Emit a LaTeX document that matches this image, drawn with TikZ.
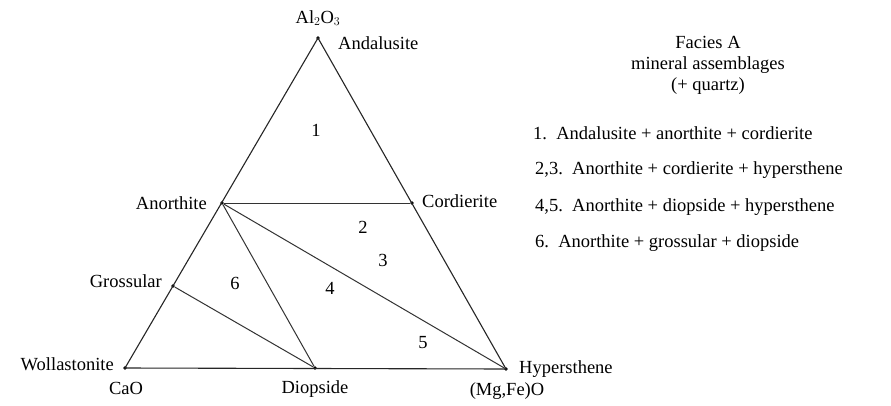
\documentclass[tikz,border=0pt]{standalone}
\usepackage{fontspec}
\setmainfont{Liberation Serif}
\usetikzlibrary{positioning}

\begin{document}
\begin{tikzpicture}[
x=1pt,y=-1pt,
side/.style={draw=black!85, line width=1.1pt},
tie/.style={draw=black!80, line width=1pt},
pt/.style={circle, fill=black, inner sep=0pt, minimum size=3.6pt},
lbl/.style={font=\fontsize{18.5}{21}\selectfont, inner sep=0pt},
num/.style={font=\fontsize{18.5}{21}\selectfont, inner sep=0pt},
key/.style={font=\fontsize{18.5}{21}\selectfont, anchor=west, inner sep=0pt}
]
\useasboundingbox (0,0) rectangle (891,405);
\fill[white] (0,0) rectangle (891,405);

% corners and phases
\node[pt] (al) at (318,38) {};
\node[pt] (cao) at (125,368) {};
\node[pt] (hyp) at (506,369) {};
\node[pt] (an) at (222,203) {};
\node[pt] (cd) at (412,203) {};
\node[pt] (gr) at (173,286) {};
\node[pt] (di) at (315,368) {};

\draw[side] (al.center) -- (cao.center) -- (hyp.center) -- cycle;
\draw[tie] (an) -- (cd);
\draw[tie] (an) -- (hyp);
\draw[tie] (an) -- (di);
\draw[tie] (gr) -- (di);

% phase names
\node[lbl, above=10pt of al] (alname) {Al$_2$O$_3$};
\node[lbl, anchor=west] (and) at (338,43) {Andalusite};
\node[lbl, left=13pt of an] (anname) {Anorthite};
\node[lbl, anchor=west] (cdname) at (422,201) {Cordierite};
\node[lbl, anchor=east] (grname) at (162,281) {Grossular};
\node[lbl, anchor=east] (wo) at (114,364) {Wollastonite};
\node[lbl] (caoname) at (126,388) {CaO};
\node[lbl] (diname) at (315,389) {Diopside};
\node[lbl, right=11pt of hyp] (hypname) {Hypersthene};
\node[lbl] (mgfe) at (507,391) {(Mg,Fe)O};

% fields
\node[num] (f1) at (316,130) {1};
\node[num] (f2) at (363,227) {2};
\node[num] (f3) at (383,260) {3};
\node[num] (f4) at (330,288) {4};
\node[num] (f5) at (423,343) {5};
\node[num] (f6) at (235,283) {6};

% key
\node[lbl, align=center] (head) at (708,65) {Facies A\\mineral assemblages\\(+ quartz)};
\node[key] (k1) at (533,133) {1.\ \ Andalusite + anorthite + cordierite};
\node[key] (k2) at (535,170) {2,3.\ \ Anorthite + cordierite + hypersthene};
\node[key] (k3) at (535,207) {4,5.\ \ Anorthite + diopside + hypersthene};
\node[key] (k4) at (535,243) {6.\ \ Anorthite + grossular + diopside};
\end{tikzpicture}
\end{document}
